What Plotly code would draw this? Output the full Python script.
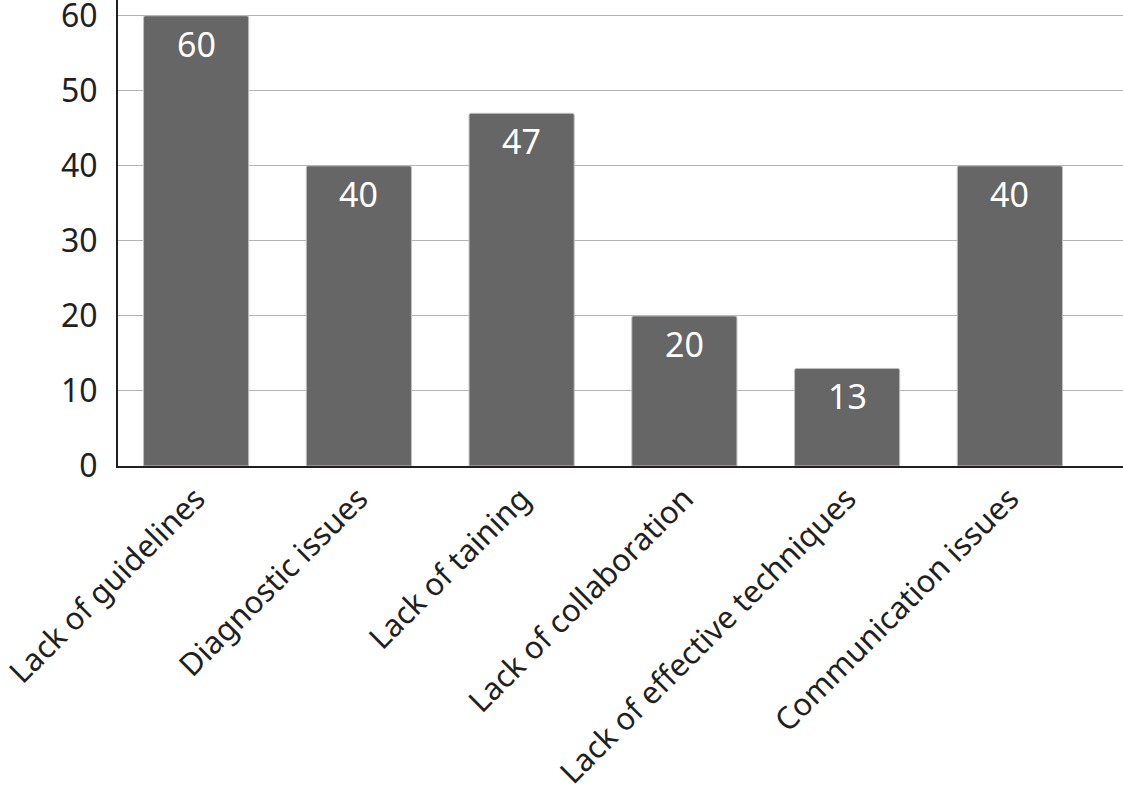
import plotly.graph_objects as go

categories = ["Lack of guidelines", "Diagnostic issues", "Lack of taining",
              "Lack of collaboration", "Lack of effective techniques", "Communication issues"]
values = [60, 40, 47, 20, 13, 40]
y_ticks = [0, 10, 20, 30, 40, 50, 60]

FONT = "Noto Sans"
fig = go.Figure()
fig.add_trace(go.Bar(
    x=list(range(len(categories))), y=values, width=0.646,
    marker=dict(color="#666666", line=dict(color="#c0c0c0", width=1), cornerradius=2),
    hoverinfo="skip",
))
for i, v in enumerate(values):
    fig.add_annotation(x=i, y=v, text=str(v), showarrow=False, yanchor="top", yshift=-3,
                       font=dict(family=FONT, size=34, color="white"))

fig.update_layout(
    width=1123, height=802, margin=dict(l=118, r=0, t=0, b=336),
    paper_bgcolor="white", plot_bgcolor="white", showlegend=False,
    xaxis=dict(range=[-0.48, 5.695], tickmode="array", tickvals=list(range(len(categories))),
               ticktext=categories, tickangle=-45, showgrid=False, zeroline=False,
               showline=True, linecolor="#231f20", linewidth=2, ticks="", automargin=False,
               ticklabeloverflow="allow",
               tickfont=dict(family=FONT, size=31, color="#231f20")),
    yaxis=dict(range=[0, 62.1], tickvals=y_ticks, showgrid=True, gridcolor="#b4b4b4", gridwidth=1,
               zeroline=False, showline=True, linecolor="#231f20", linewidth=2, ticks="",
               ticklabelstandoff=12, automargin=False, ticklabeloverflow="allow",
               tickfont=dict(family=FONT, size=32, color="#231f20")),
)
fig.write_html("out.html", config={"displayModeBar": False},
               post_script="document.body.style.margin='0';")
